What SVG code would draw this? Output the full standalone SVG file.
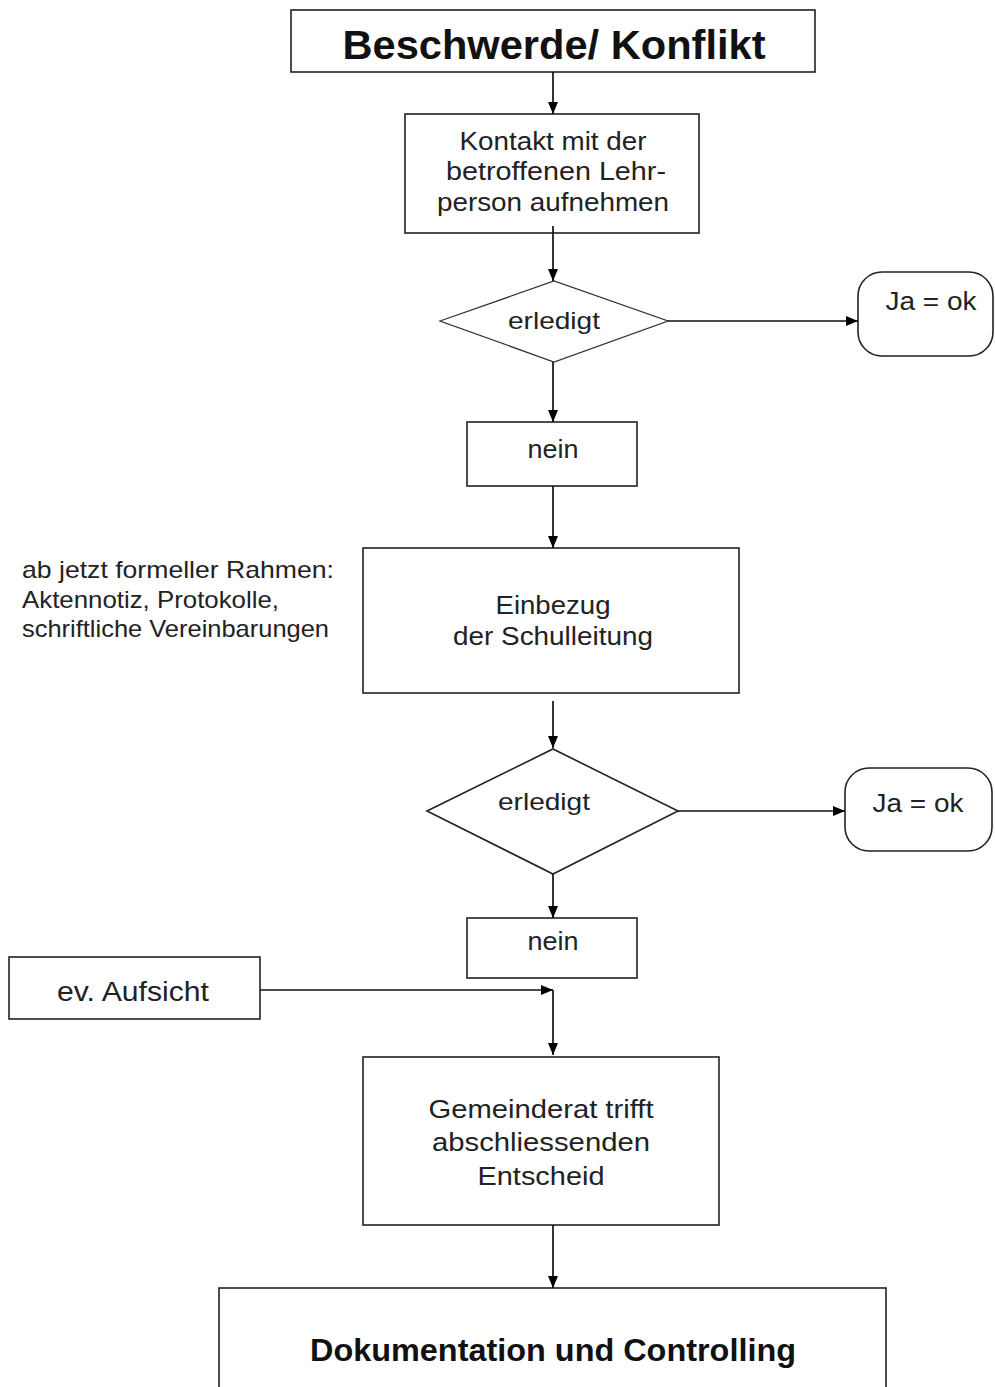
<svg xmlns="http://www.w3.org/2000/svg" width="995" height="1387" viewBox="0 0 995 1387">
<defs>
<marker id="ah" viewBox="0 0 12 10" refX="12" refY="5" markerWidth="12" markerHeight="10" markerUnits="userSpaceOnUse" orient="auto">
<path d="M0,0 L12,5 L0,10 z" fill="#000"/>
</marker>
<style>
.box{fill:#fff;stroke:#222;stroke-width:1.6}
.t{font-family:"Liberation Sans",Arial,sans-serif;font-size:25px;fill:#222;text-anchor:middle}
.b{font-weight:bold;fill:#111}
.l{text-anchor:start}
.c{fill:none;stroke:#111;stroke-width:1.7;marker-end:url(#ah)}
</style>
</defs>
<rect width="995" height="1387" fill="#fff"/>
<g id="n-beschwerde">
<rect class="box" x="291" y="10" width="524" height="62"/>
<text class="t b" x="554" y="59" style="font-size:41px" textLength="423" lengthAdjust="spacingAndGlyphs">Beschwerde/ Konflikt</text>
</g>
<g id="n-kontakt">
<rect class="box" x="405" y="114" width="294" height="119"/>
<text class="t" x="553" y="150" textLength="187" lengthAdjust="spacingAndGlyphs">Kontakt mit der</text>
<text class="t" x="556" y="180" textLength="220" lengthAdjust="spacingAndGlyphs">betroffenen Lehr-</text>
<text class="t" x="553" y="211" textLength="232" lengthAdjust="spacingAndGlyphs">person aufnehmen</text>
</g>
<g id="n-erledigt1">
<polygon class="box" points="440,321 554,281 668,321 554,362" style="stroke-width:1.3;stroke:#333"/>
<text class="t" x="554" y="329" style="font-size:24px" textLength="92" lengthAdjust="spacingAndGlyphs">erledigt</text>
</g>
<g id="n-ja1">
<rect class="box" x="858" y="272" width="135" height="84" rx="24" ry="24"/>
<text class="t" x="931" y="310" textLength="91" lengthAdjust="spacingAndGlyphs">Ja = ok</text>
</g>
<g id="n-nein1">
<rect class="box" x="467" y="422" width="170" height="64"/>
<text class="t" x="553" y="458" textLength="51" lengthAdjust="spacingAndGlyphs">nein</text>
</g>
<g id="n-note">
<text class="t l" x="22" y="578" style="font-size:24px" textLength="312" lengthAdjust="spacingAndGlyphs">ab jetzt formeller Rahmen:</text>
<text class="t l" x="22" y="608" style="font-size:24px" textLength="257" lengthAdjust="spacingAndGlyphs">Aktennotiz, Protokolle,</text>
<text class="t l" x="22" y="637" style="font-size:24px" textLength="307" lengthAdjust="spacingAndGlyphs">schriftliche Vereinbarungen</text>
</g>
<g id="n-einbezug">
<rect class="box" x="363" y="548" width="376" height="145"/>
<text class="t" x="553" y="614" textLength="115" lengthAdjust="spacingAndGlyphs">Einbezug</text>
<text class="t" x="553" y="645" textLength="200" lengthAdjust="spacingAndGlyphs">der Schulleitung</text>
</g>
<g id="n-erledigt2">
<polygon class="box" points="427,811 553,749 678,811 553,874"/>
<text class="t" x="544" y="810" style="font-size:24px" textLength="92" lengthAdjust="spacingAndGlyphs">erledigt</text>
</g>
<g id="n-ja2">
<rect class="box" x="845" y="768" width="147" height="83" rx="24" ry="24"/>
<text class="t" x="918" y="812" textLength="91" lengthAdjust="spacingAndGlyphs">Ja = ok</text>
</g>
<g id="n-nein2">
<rect class="box" x="467" y="918" width="170" height="60"/>
<text class="t" x="553" y="950" textLength="51" lengthAdjust="spacingAndGlyphs">nein</text>
</g>
<g id="n-aufsicht">
<rect class="box" x="9" y="957" width="251" height="62"/>
<text class="t" x="133" y="1001" style="font-size:27px" textLength="152" lengthAdjust="spacingAndGlyphs">ev. Aufsicht</text>
</g>
<g id="n-gemeinderat">
<rect class="box" x="363" y="1057" width="356" height="168"/>
<text class="t" x="541" y="1118" textLength="225" lengthAdjust="spacingAndGlyphs">Gemeinderat trifft</text>
<text class="t" x="541" y="1151" textLength="218" lengthAdjust="spacingAndGlyphs">abschliessenden</text>
<text class="t" x="541" y="1185" textLength="127" lengthAdjust="spacingAndGlyphs">Entscheid</text>
</g>
<g id="n-doku">
<rect class="box" x="219" y="1288" width="667" height="120"/>
<text class="t b" x="553" y="1361" style="font-size:32px" textLength="486" lengthAdjust="spacingAndGlyphs">Dokumentation und Controlling</text>
</g>
<g id="connectors">
<line class="c" x1="553" y1="72" x2="553" y2="114"/>
<line class="c" x1="553" y1="226" x2="553" y2="281"/>
<line class="c" x1="668" y1="321" x2="858" y2="321"/>
<line class="c" x1="553" y1="362" x2="553" y2="422"/>
<line class="c" x1="553" y1="486" x2="553" y2="548"/>
<line class="c" x1="553" y1="701" x2="553" y2="748"/>
<line class="c" x1="678" y1="811" x2="845" y2="811"/>
<line class="c" x1="553" y1="874" x2="553" y2="918"/>
<line class="c" x1="260" y1="990" x2="553" y2="990"/>
<line class="c" x1="553" y1="990" x2="553" y2="1055"/>
<line class="c" x1="553" y1="1225" x2="553" y2="1288"/>
</g>
</svg>
